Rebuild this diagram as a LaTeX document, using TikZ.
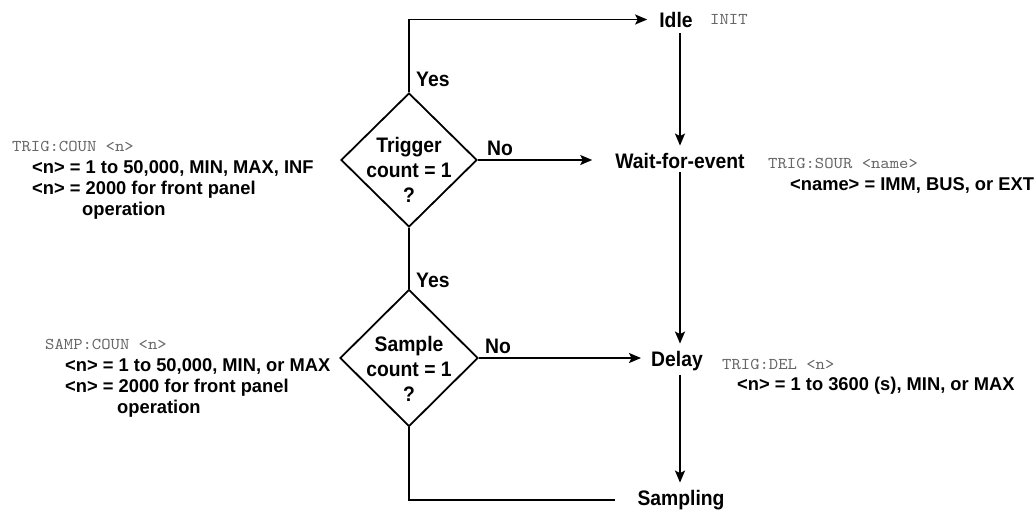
\documentclass[tikz,border=0pt]{standalone}
\usepackage{fontspec}
\setmainfont{Liberation Sans}
\newfontfamily\lblfont{Liberation Sans}[FakeStretch=0.92]
\newfontfamily\notefont{Liberation Sans}[FakeStretch=0.99]
\newfontfamily\cmdfont{lmmono10-regular.otf}[FakeStretch=1.08]
\usetikzlibrary{arrows.meta,shapes.geometric}
\definecolor{cmdgray}{HTML}{666666}
\tikzset{
  lbl/.style={inner sep=0pt, font=\fontsize{21}{25}\lblfont\bfseries},
  note/.style={inner sep=0pt, anchor=base west, font=\fontsize{18.5}{21}\notefont\bfseries},
  cmd/.style={inner sep=0pt, anchor=base west, text=cmdgray, font=\fontsize{16.5}{18}\cmdfont},
  dia/.style={draw, diamond, line width=1.8pt, inner sep=0pt},
  conn/.style={line width=1.8pt},
  arr/.style={line width=1.8pt, -{Stealth[length=12pt,width=10pt,inset=2.5pt]}},
}
\begin{document}
\begin{tikzpicture}[x=1pt,y=-1pt]
\useasboundingbox (0,0) rectangle (1035,512);
% decisions
\node[dia, minimum width=136pt, minimum height=134pt] (d1) at (409,160) {};
\node[lbl, align=center] (t1) at (409,170) {Trigger\\count = 1\\?};
\node[dia, minimum width=138pt, minimum height=137pt] (d2) at (409,358) {};
\node[lbl, align=center] (t2) at (409,369) {Sample\\count = 1\\?};
% states
\node[lbl, anchor=base] (idle) at (676,27) {Idle};
\node[lbl, anchor=base] (wfe) at (680,168) {Wait-for-event};
\node[lbl, anchor=base] (delay) at (677,366) {Delay};
\node[lbl, anchor=base] (samp) at (681,505) {Sampling};
% branch labels
\node[lbl, anchor=base west] (y1) at (416,86) {Yes};
\node[lbl, anchor=base west] (n1) at (487,155) {No};
\node[lbl, anchor=base west] (y2) at (416,287) {Yes};
\node[lbl, anchor=base west] (n2) at (485,353) {No};
% connectors
\draw[arr, shorten >=12pt] (d1.north) |- (idle.west);
\draw[arr, shorten <=6pt, shorten >=7pt] (idle.south -| wfe.north) -- (wfe.north);
\draw[arr, shorten >=23pt] (d1.east) -- (d1.east -| wfe.west);
\draw[arr, shorten <=4pt, shorten >=7pt] (wfe.south) -- (wfe.south |- delay.north);
\draw[conn] (d1.south) -- (d2.north);
\draw[arr, shorten >=10pt] (d2.east) -- (d2.east -| delay.west);
\draw[arr, shorten <=4pt, shorten >=7pt] (delay.south -| wfe.south) -- (wfe.south |- samp.north);
\draw[conn, shorten >=22pt] (d2.south) |- (samp.west);
% notes
\node[cmd] (initc) at (710,24) {INIT};
\node[cmd] (tcoun) at (12,151) {TRIG:COUN <n>};
\node[note] (tc1) at (32,173) {<n> = 1 to 50,000, MIN, MAX, INF};
\node[note] (tc2) at (32,194) {<n> = 2000 for front panel};
\node[note] (tc3) at (82,215) {operation};
\node[cmd] (scoun) at (45,349) {SAMP:COUN <n>};
\node[note] (sc1) at (65,371) {<n> = 1 to 50,000, MIN, or MAX};
\node[note] (sc2) at (65,392) {<n> = 2000 for front panel};
\node[note] (sc3) at (117,413) {operation};
\node[cmd] (tsour) at (768,168) {TRIG:SOUR <name>};
\node[note] (ts1) at (790,190) {<name> = IMM, BUS, or EXT};
\node[cmd] (tdel) at (722,369) {TRIG:DEL <n>};
\node[note] (td1) at (737,390) {<n> = 1 to 3600 (s), MIN, or MAX};
\end{tikzpicture}
\end{document}
